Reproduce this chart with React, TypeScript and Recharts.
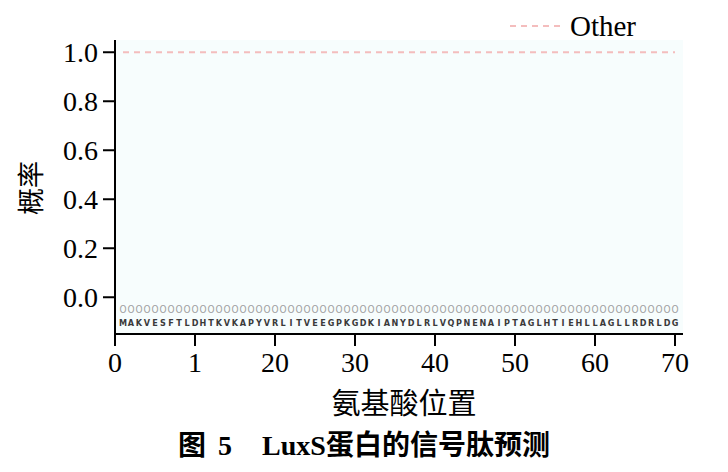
import React from 'react';
import { ComposedChart, Line, Scatter, XAxis, YAxis, CartesianGrid, Legend } from 'recharts';

const SERIF = '"Liberation Serif", "Noto Sans CJK SC", serif';
const CJK = '"Noto Sans CJK SC", sans-serif';

// Amino-acid sequence of LuxS (positions 1..70)
const residues = 'MAKVESFTLDHTKVKAPYVRLITVEEGPKGDKIANYDLRLVQPNENAIPTAGLHTIEHLLAGLLRDRLDG'.split('');
// Predicted class for each residue
const predictedClass = 'OOOOOOOOOOOOOOOOOOOOOOOOOOOOOOOOOOOOOOOOOOOOOOOOOOOOOOOOOOOOOOOOOOOOOO'.split('');
// Probability of "Other" per residue
const otherProbability = [
  1, 1, 1, 1, 1, 1, 1, 1, 1, 1,
  1, 1, 1, 1, 1, 1, 1, 1, 1, 1,
  1, 1, 1, 1, 1, 1, 1, 1, 1, 1,
  1, 1, 1, 1, 1, 1, 1, 1, 1, 1,
  1, 1, 1, 1, 1, 1, 1, 1, 1, 1,
  1, 1, 1, 1, 1, 1, 1, 1, 1, 1,
  1, 1, 1, 1, 1, 1, 1, 1, 1, 1,
];

const xTicks = [0, 10, 20, 30, 40, 50, 60, 70];
const xTickLabels = ['0', '1', '20', '30', '40', '50', '60', '70'];
const yTicks = [0, 0.2, 0.4, 0.6, 0.8, 1.0];
const yTickLabels = ['0.0', '0.2', '0.4', '0.6', '0.8', '1.0'];

const PRED_ROW = -0.052;
const SEQ_ROW = -0.105;

const data = residues.map((aa, i) => ({
  pos: i + 1,
  aa,
  cls: predictedClass[i],
  other: otherProbability[i],
  predRow: PRED_ROW,
  seqRow: SEQ_ROW,
}));

const LINE_COLOR = '#f4bdbd';
const LEGEND_H = 32;

const SeqLetter = (props: any) => {
  const { cx, cy, payload } = props;
  return (
    <text x={cx} y={cy} textAnchor="middle" dominantBaseline="central"
      fontFamily='"DejaVu Sans Condensed", "DejaVu Sans", sans-serif' fontWeight="bold"
      fontSize={9} fill="#3a3a3a">{payload.aa}</text>
  );
};

const PredLetter = (props: any) => {
  const { cx, cy, payload } = props;
  return (
    <text x={cx} y={cy} textAnchor="middle" dominantBaseline="central"
      fontFamily='"DejaVu Sans Condensed", "DejaVu Sans", sans-serif'
      fontSize={10} fill="#a0a0a0">{payload.cls}</text>
  );
};

const LegendContent = (props: any) => {
  const items = (props.payload || []).filter((p: any) => p.value === 'Other');
  return (
    <div style={{ height: LEGEND_H }}>
      {items.map((p: any) => (
        <div key={p.value} style={{ display: 'flex', alignItems: 'center', height: LEGEND_H }}>
          <svg width={56} height={6}>
            <line x1={2} y1={3} x2={54} y2={3} stroke={LINE_COLOR} strokeWidth={2} strokeDasharray="6 5" />
          </svg>
          <span style={{ fontFamily: SERIF, fontSize: 29, color: '#000', marginLeft: 6, lineHeight: `${LEGEND_H}px` }}>{p.value}</span>
        </div>
      ))}
    </div>
  );
};

const YLabel = (props: any) => {
  const vb = props.viewBox || { x: 0, y: 40, width: 115, height: 294 };
  const cx = 29;
  const cy = vb.y + vb.height / 2 + 1;
  return (
    <text x={cx} y={cy} transform={`rotate(-90, ${cx}, ${cy})`} textAnchor="middle"
      dominantBaseline="central" fontFamily={CJK} fontSize={27} fill="#000">概率</text>
  );
};

const XLabel = (props: any) => {
  const vb = props.viewBox || { x: 115, y: 334, width: 568, height: 60 };
  const cx = vb.x + vb.width / 2 + 5;
  return (
    <text x={cx} y={401} textAnchor="middle" dominantBaseline="central"
      fontFamily={CJK} fontSize={29} fill="#000">氨基酸位置</text>
  );
};

export default function App() {
  return (
    <div style={{ position: 'absolute', left: 0, top: 0, width: 728, height: 472, background: '#fff' }}>
      <ComposedChart width={728} height={472} data={data}
        margin={{ top: 40 - LEGEND_H, right: 45, left: 0, bottom: 78 }}>
        <CartesianGrid horizontal={false} vertical={false} fill="#f7fdfd" />
        <XAxis dataKey="pos" type="number" domain={[0, 71]} ticks={xTicks} allowDataOverflow
          tickFormatter={(v: number) => xTickLabels[xTicks.indexOf(v)] ?? String(v)}
          tick={{ fontFamily: SERIF, fontSize: 28, fill: '#000' }}
          tickSize={12} tickMargin={6} height={60}
          axisLine={{ stroke: '#000', strokeWidth: 2 }} tickLine={{ stroke: '#000', strokeWidth: 2 }}
          label={<XLabel />} />
        <YAxis type="number" domain={[-0.15, 1.05]} ticks={yTicks} allowDataOverflow width={115}
          tickFormatter={(v: number) => yTickLabels[yTicks.indexOf(v)] ?? String(v)}
          tick={{ fontFamily: SERIF, fontSize: 28, fill: '#000' }}
          tickSize={12} tickMargin={5}
          axisLine={{ stroke: '#000', strokeWidth: 2 }} tickLine={{ stroke: '#000', strokeWidth: 2 }}
          label={<YLabel />} />
        <Legend verticalAlign="top" align="right" content={<LegendContent />}
          wrapperStyle={{ position: 'absolute', top: 10, left: 508, width: 200, height: LEGEND_H }} />
        <Line type="linear" dataKey="other" name="Other" stroke={LINE_COLOR} strokeWidth={2}
          strokeDasharray="6 5" dot={false} activeDot={false} isAnimationActive={false} />
        <Scatter dataKey="predRow" name="pred" legendType="none" shape={<PredLetter />} isAnimationActive={false} />
        <Scatter dataKey="seqRow" name="seq" legendType="none" shape={<SeqLetter />} isAnimationActive={false} />
      </ComposedChart>
      <div style={{ position: 'absolute', left: 0, top: 428, width: 728, textAlign: 'center',
        fontFamily: SERIF, fontWeight: 'bold', fontSize: 28, lineHeight: '36px', color: '#000', whiteSpace: 'nowrap' }}>
        <span>图</span><span style={{ marginLeft: 12 }}>5</span><span style={{ marginLeft: 30 }}>LuxS蛋白的信号肽预测</span>
      </div>
    </div>
  );
}
